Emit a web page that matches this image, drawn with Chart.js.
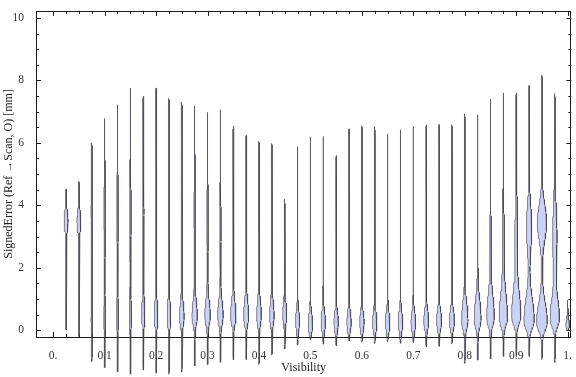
<!DOCTYPE html>
<html><head><meta charset="utf-8">
<script src="https://cdn.jsdelivr.net/npm/chart.js@4.4.1/dist/chart.umd.min.js"></script>
<style>html,body{margin:0;padding:0;background:#fff}</style>
</head><body>
<canvas id="c" width="576" height="377"></canvas>
<script>
// ---------- data ----------
const visibility = [0.025,0.05,0.075,0.1,0.125,0.15,0.175,0.2,0.225,0.25,
  0.275,0.3,0.325,0.35,0.375,0.4,0.425,0.45,0.475,0.5,
  0.525,0.55,0.575,0.6,0.625,0.65,0.675,0.7,0.725,0.75,
  0.775,0.8,0.825,0.85,0.875,0.9,0.925,0.95,0.975,1.0];
const errMax = [4.52,4.77,6.0,6.78,7.22,7.76,7.5,7.76,7.43,7.31,
  7.18,6.98,7.06,6.54,6.24,6.05,5.98,4.2,5.88,6.19,
  6.21,5.6,6.45,6.55,6.53,6.28,6.42,6.53,6.58,6.59,
  6.58,6.93,6.9,7.4,7.6,7.6,7.84,8.18,7.58,0.96];
const errMin = [0.0,-0.2,-1.0,-1.2,-1.34,-1.41,-1.28,-1.38,-1.41,-1.34,
  -1.15,-1.1,-1.03,-0.95,-0.95,-1.1,-0.8,-0.6,-0.47,-0.3,
  -0.45,-0.5,-0.35,-0.38,-0.42,-0.37,-0.42,-0.4,-0.54,-0.52,
  -0.44,-1.06,-0.96,-0.92,-0.84,-0.84,-0.84,-0.94,-1.03,0.0];
const lowMode = [0.3,0.3,0.3,0.3,0.4,0.4,0.45,0.4,0.4,0.4,
  0.45,0.45,0.45,0.45,0.45,0.45,0.45,0.5,0.3,0.2,
  0.25,0.25,0.25,0.25,0.25,0.25,0.25,0.25,0.3,0.3,
  0.3,0.3,0.35,0.4,0.4,0.45,0.3,0.25,0.38,0.12];
const lowDensity = [0,0,0.1,0.13,0.16,0.2,0.3,0.32,0.33,0.42,
  0.5,0.52,0.52,0.5,0.47,0.43,0.42,0.37,0.37,0.4,
  0.4,0.4,0.4,0.4,0.4,0.42,0.43,0.43,0.45,0.47,
  0.47,0.6,0.65,0.72,0.8,0.88,1.0,1.05,0.9,0.35];
const lowSpread = [0.3,0.3,0.4,0.4,0.4,0.4,0.45,0.45,0.45,0.45,
  0.45,0.45,0.45,0.45,0.45,0.45,0.4,0.35,0.3,0.3,
  0.3,0.3,0.3,0.3,0.3,0.3,0.3,0.3,0.32,0.32,
  0.32,0.55,0.6,0.65,0.7,0.75,0.7,0.6,0.6,0.2];
const highMode = [3.5,3.5,3.8,3.9,3.9,3.8,3.8,3.8,3.8,3.8,
  3.8,3.6,3.4,3.2,3.0,2.8,2.5,3.0,3.0,3.0,
  3.0,3.0,3.0,3.0,3.0,3.0,3.0,3.0,3.0,3.0,
  3.0,3.0,3.0,2.5,2.6,3.0,3.3,3.45,3.0,0.5];
const highDensity = [0.35,0.35,0.1,0.1,0.11,0.11,0.1,0.1,0.1,0.1,
  0.1,0.09,0.08,0.08,0.07,0.06,0.05,0,0,0,
  0,0,0,0,0,0,0,0,0,0,
  0,0,0,0.1,0.15,0.22,0.5,0.9,0.4,0];
const highSpread = [0.28,0.28,0.8,0.8,0.8,0.8,0.8,0.8,0.8,0.8,
  0.8,0.8,0.8,0.8,0.8,0.8,0.8,0.8,0.8,0.8,
  0.8,0.8,0.8,0.8,0.8,0.8,0.8,0.8,0.8,0.8,
  0.8,0.8,0.8,0.9,0.9,1.0,0.65,0.55,0.9,0.3];
const xTickValues = [0,0.1,0.2,0.3,0.4,0.5,0.6,0.7,0.8,0.9,1.0];
const xTickLabels = ["0.","0.1","0.2","0.3","0.4","0.5","0.6","0.7","0.8","0.9","1."];
const yTickValues = [0,2,4,6,8,10];
const yTickLabels = ["0","2","4","6","8","10"];

// ---------- rendering constants ----------
const HALF_WIDTH = 0.0095;     // x-units of half width at density 1
const BASE_DENSITY = 0.06;
const TAIL_SPREAD = 0.26;
const TAPER = 0.15;
const STEPS = 160;

function density(i, y) {
  let d = BASE_DENSITY;
  const dl = y - lowMode[i];
  const sl = dl >= 0 ? lowSpread[i] : Math.min(TAIL_SPREAD, lowSpread[i]);
  d += lowDensity[i] * Math.exp(-0.5 * (dl / sl) ** 2);
  if (highDensity[i] > 0) {
    const dh = y - highMode[i];
    d += highDensity[i] * Math.exp(-0.5 * (dh / highSpread[i]) ** 2);
  }
  const t = Math.min(1, (y - errMin[i]) / TAPER, (errMax[i] - y) / TAPER);
  return d * Math.sqrt(Math.max(0, t));
}

const datasets = visibility.map((v, i) => {
  const left = [], right = [];
  for (let k = 0; k <= STEPS; k++) {
    const y = errMin[i] + (errMax[i] - errMin[i]) * k / STEPS;
    const w = density(i, y) * HALF_WIDTH;
    left.push({x: v - w, y});
    right.push({x: v + w, y});
  }
  const pts = left.concat(right.reverse());
  pts.push(left[0]);
  return {
    data: pts, showLine: true, fill: 'shape', tension: 0,
    backgroundColor: 'rgb(203,210,246)', borderColor: 'rgba(60,60,66,0.68)',
    borderWidth: 0.9, pointRadius: 0, clip: false
  };
});

const frame = {
  id: 'frame',
  beforeDatasetsDraw(chart) {
    const {ctx, chartArea: a, scales: {x, y}} = chart;
    ctx.save();
    ctx.strokeStyle = '#1a1a1a';
    ctx.lineWidth = 1;
    ctx.strokeRect(Math.round(a.left) + 0.5, Math.round(a.top) + 0.5,
      Math.round(a.right - a.left) - 1, Math.round(a.bottom - a.top));
    ctx.beginPath();
    for (let k = 0; k <= 40; k++) {
      const v = k * 0.025;
      const px = Math.round(x.getPixelForValue(v)) + 0.5;
      const len = (k % 4 === 0) ? 5 : 3;
      ctx.moveTo(px, a.bottom); ctx.lineTo(px, a.bottom - len);
      ctx.moveTo(px, a.top); ctx.lineTo(px, a.top + len);
    }
    for (let k = 0; k <= 20; k++) {
      const v = k * 0.5;
      const py = Math.round(y.getPixelForValue(v)) + 0.5;
      const len = (k % 4 === 0) ? 5 : 3;
      ctx.moveTo(a.left, py); ctx.lineTo(a.left + len, py);
      ctx.moveTo(a.right, py); ctx.lineTo(a.right - len, py);
    }
    ctx.stroke();
    ctx.restore();
  }
};

new Chart(document.getElementById('c'), {
  type: 'scatter',
  data: {datasets},
  plugins: [frame],
  options: {
    responsive: false, animation: false, devicePixelRatio: 1,
    layout: {padding: {top: 4, right: 1, left: 0, bottom: 0}},
    plugins: {legend: {display: false}, tooltip: {enabled: false}},
    scales: {
      x: {
        type: 'linear', min: -0.0334, max: 1.0071,
        afterFit: s => { s.height = 40; },
        afterBuildTicks: s => { s.ticks = xTickValues.map(v => ({value: v})); },
        grid: {display: false}, border: {display: false},
        ticks: {
          autoSkip: false, maxRotation: 0, padding: 4,
          font: {family: 'Liberation Serif', size: 11.5}, color: '#333',
          callback: (v) => { const j = xTickValues.findIndex(t => Math.abs(t - v) < 1e-9); return j >= 0 ? xTickLabels[j] : ''; }
        },
        title: {display: true, text: 'Visibility', color: '#222',
          font: {family: 'Liberation Serif', size: 12}, padding: {top: 0, bottom: 2}}
      },
      y: {
        type: 'linear', min: -0.2196, max: 10.229,
        afterFit: s => { s.width = 36; },
        afterBuildTicks: s => { s.ticks = yTickValues.map(v => ({value: v})); },
        grid: {display: false}, border: {display: false},
        ticks: {
          autoSkip: false, padding: 4,
          font: {family: 'Liberation Serif', size: 11.5}, color: '#333',
          callback: (v) => { const j = yTickValues.indexOf(v); return j >= 0 ? yTickLabels[j] : ''; }
        },
        title: {display: true, text: 'SignedError (Ref →Scan, O) [mm]', color: '#222',
          font: {family: 'Liberation Serif', size: 12}, padding: {top: 2, bottom: 0}}
      }
    }
  }
});
</script>
</body></html>
